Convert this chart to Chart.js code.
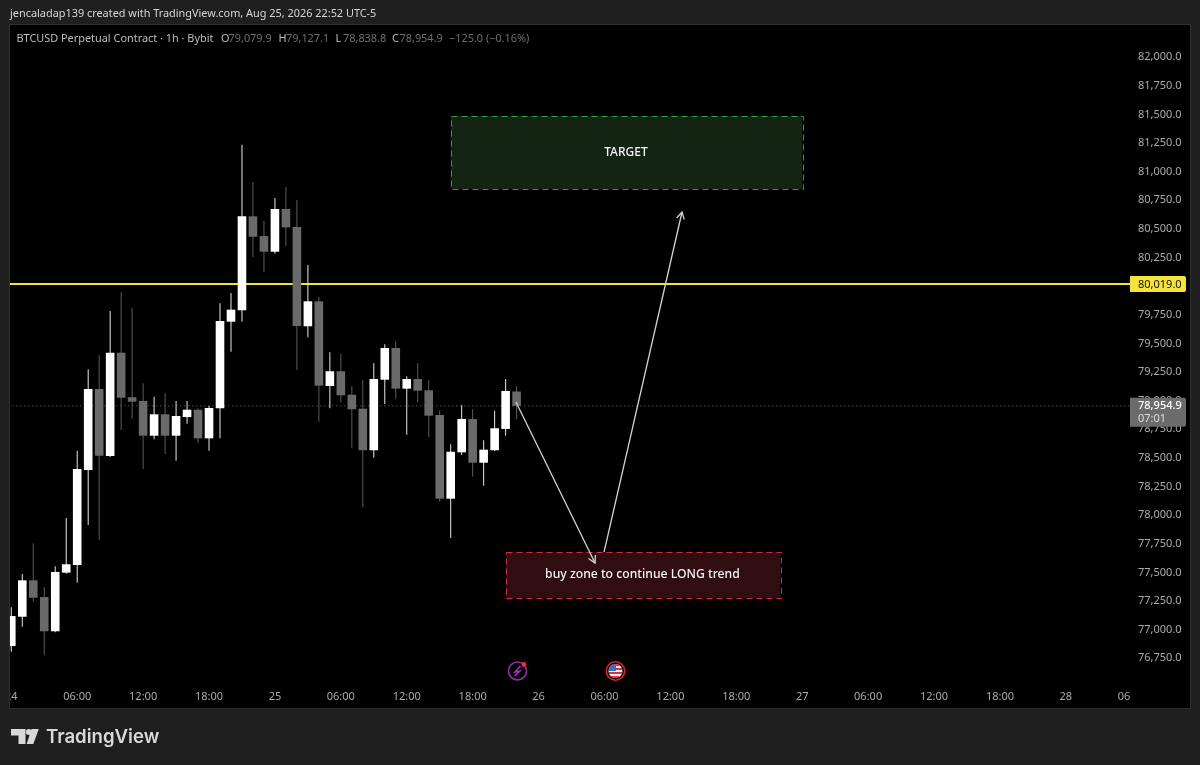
<!DOCTYPE html>
<html><head><meta charset="utf-8">
<script src="https://cdn.jsdelivr.net/npm/chart.js@4/dist/chart.umd.min.js"></script>
<style>html,body{margin:0;padding:0;background:#1e1e1e}canvas{display:block}</style>
</head><body><canvas id="c" width="1200" height="765"></canvas>
<script>
const opens  = [76857,77113,77431,77285,76986,77498,77565,78394,79102,78517,79419,79030,78997,78694,78881,78694,78857,78921,78671,78933,79690,79789,80610,80438,80301,80674,80517,79650,79868,79128,79257,79052,78930,78567,79183,79460,79105,79189,79091,78875,78144,78549,78840,78458,78567,78753,79079.9];
const highs  = [77195,77486,77754,77373,77553,77975,78563,79274,79396,79783,79947,79809,79152,79035,79064,78997,78997,78933,78953,79850,79940,81236,80910,80569,80770,80864,80753,80185,79908,79423,79410,79126,79181,79326,79492,79519,79213,79329,79181,78913,78619,78960,78925,78654,78913,79189,79127.1];
const lows   = [76808,77026,77244,76779,76977,77489,77410,77914,77783,78508,78744,78843,78403,78663,78534,78476,78799,78630,78563,78671,79428,79690,80252,80121,80284,80351,79268,79554,78816,78933,78988,78589,78071,78502,78971,79015,78703,78988,78683,78118,77801,78526,78336,78257,78560,78694,78838.8];
const closes = [77119,77431,77279,76986,77504,77571,78403,79102,78519,79419,79026,78991,78694,78881,78694,78866,78921,78671,78936,79696,79795,80610,80432,80301,80674,80514,79652,79868,79131,79257,79047,78925,78567,79189,79460,79105,79189,79087,78869,78144,78554,78840,78458,78572,78759,79085,78954.9];

const priceTicks = [76750,77000,77250,77500,77750,78000,78250,78500,78750,79000,79250,79500,79750,80000,80250,80500,80750,81000,81250,81500,81750,82000];
const timeTickIndex = [0,6,12,18,24,30,36,42,48,54,60,66,72,78,84,90,96,102];
const timeTickLabels = ['24','06:00','12:00','18:00','25','06:00','12:00','18:00','26','06:00','12:00','18:00','27','06:00','12:00','18:00','28','06:00'];

const levelPrice = 80019.0;
const lastPrice = 78954.9;
const levelX = [-1,110];
const arrowDownX = [45.94,53.14], arrowDownY = [78988,77582];
const arrowUpX = [53.96,61.06], arrowUpY = [77678,80648];
const targetZoneX = [40,72], targetZoneY = [81486,80849];
const buyZoneX = [45,70], buyZoneY = [77678,77277];

const FONT = '"Noto Sans"';
const UP='#ffffff', DOWN='#6a6a6a', UPW='#e8e8e8', DOWNW='#5c5c5c';
const FRAME='#1f1f1f', EDGE='#2e2e2e';
const idx = opens.map((_,i)=>i);
const isUp = i => closes[i]>=opens[i];

function txt(ctx,s,x,y,font,color,align){ctx.font=font;ctx.fillStyle=color;ctx.textAlign=align||'left';ctx.textBaseline='middle';ctx.fillText(s,x,y);}
function tag(ctx,x,y,w,h,color){ctx.fillStyle=color;ctx.beginPath();ctx.roundRect(x,y,w,h,[0,2,2,0]);ctx.fill();}
function head(ctx,x0,y0,x1,y1){const a=Math.atan2(y1-y0,x1-x0),L=8,s=0.5;ctx.beginPath();ctx.moveTo(x1-L*Math.cos(a-s),y1-L*Math.sin(a-s));ctx.lineTo(x1,y1);ctx.lineTo(x1-L*Math.cos(a+s),y1-L*Math.sin(a+s));ctx.stroke();}

const frame={id:'frame',
 beforeDraw(ch){const c=ch.ctx;c.save();c.fillStyle=FRAME;c.fillRect(0,0,1200,765);c.fillStyle=EDGE;c.fillRect(9,24,1182,685);c.fillStyle='#000';c.fillRect(10,25,1180,683);c.restore();},
 beforeDatasetsDraw(ch){const c=ch.ctx,X=ch.scales.x,Y=ch.scales.y;c.save();
  const zone=(xs,ys,fill,stroke,label,size)=>{const x0=X.getPixelForValue(xs[0]),x1=X.getPixelForValue(xs[1]),y0=Y.getPixelForValue(ys[0]),y1=Y.getPixelForValue(ys[1]);
   c.fillStyle=fill;c.fillRect(x0,y0,x1-x0,y1-y0);c.strokeStyle=stroke;c.lineWidth=1;c.setLineDash([6,4]);c.strokeRect(Math.round(x0)+.5,Math.round(y0)+.5,Math.round(x1-x0),Math.round(y1-y0));c.setLineDash([]);
   txt(c,label,(x0+x1)/2-.5,(y0+y1)/2,'500 '+size+'px '+FONT,'#f4f4f4','center');};
  zone(targetZoneX,targetZoneY,'#142412','#2f9e44','TARGET',12);
  zone(buyZoneX,buyZoneY,'#300d11','#d6293e','buy zone to continue LONG trend',12.2);
  c.restore();},
 afterDatasetsDraw(ch){const c=ch.ctx,X=ch.scales.x,Y=ch.scales.y;c.save();
  c.strokeStyle='#d4d4d4';c.lineWidth=1.3;
  head(c,X.getPixelForValue(arrowDownX[0]),Y.getPixelForValue(arrowDownY[0]),X.getPixelForValue(arrowDownX[1]),Y.getPixelForValue(arrowDownY[1]));
  head(c,X.getPixelForValue(arrowUpX[0]),Y.getPixelForValue(arrowUpY[0]),X.getPixelForValue(arrowUpX[1]),Y.getPixelForValue(arrowUpY[1]));
  c.fillStyle=FRAME;c.fillRect(0,682,9,27);c.fillStyle=EDGE;c.fillRect(9,682,1,27);c.fillStyle='#000';c.fillRect(1130,682,60,26);
  const yl=Y.getPixelForValue(levelPrice),yp=Y.getPixelForValue(lastPrice);
  tag(c,1130,yl-8,56,16,'#f5e33c');txt(c,'80,019.0',1138,yl+.5,'11px '+FONT,'#111','left');
  tag(c,1130,yp-8,56,29,'#6b6b6b');txt(c,'78,954.9',1138,yp+.5,'500 11px '+FONT,'#fff','left');txt(c,'07:01',1138,yp+13,'11px '+FONT,'#ddd','left');
  txt(c,'jencaladap139 created with TradingView.com, Aug 25, 2026 22:52 UTC-5',10,14,'10.9px '+FONT,'#d6d6d6');
  const LF='10.9px '+FONT,L1='#bdbdbd',L2='#6f6f6f',ly=39;
  txt(c,'BTCUSD Perpetual Contract · 1h · Bybit',16.5,ly,LF,L1);
  [['O','79,079.9',221],['H','79,127.1',278.5],['L','78,838.8',335.5],['C','78,954.9',392]].forEach(([a,b,x])=>{txt(c,a,x,ly,LF,L1);txt(c,b,x+7.5,ly,LF,L2);});
  txt(c,'−125.0 (−0.16%)',449,ly,LF,L2);
  c.strokeStyle='#8e2fb0';c.lineWidth=1.6;c.beginPath();c.arc(517.5,671,9,0,7);c.stroke();
  c.strokeStyle='#9c36c0';c.lineWidth=1.5;c.beginPath();c.moveTo(520.5,666);c.lineTo(515,672);c.lineTo(520,671);c.lineTo(514.5,676);c.stroke();
  c.fillStyle='#f0283c';c.beginPath();c.arc(524,664.5,2.4,0,7);c.fill();
  c.strokeStyle='#e0252f';c.lineWidth=1.5;c.beginPath();c.arc(615.5,671,9.2,0,7);c.stroke();
  c.save();c.beginPath();c.arc(615.5,671,7,0,7);c.clip();c.fillStyle='#f2f2f2';c.fillRect(607,663,17,16);c.fillStyle='#d8333f';[664,668,672,676].forEach(y=>c.fillRect(607,y,17,2));c.fillStyle='#3b6fc4';c.fillRect(607,663,9,8);c.restore();
  c.fillStyle='#d9d9d9';c.beginPath();c.moveTo(11,729);c.lineTo(25.5,729);c.lineTo(25.5,744);c.lineTo(18.5,744);c.lineTo(18.5,735.5);c.lineTo(11,735.5);c.closePath();c.fill();
  c.beginPath();c.arc(28.8,732,2.9,0,7);c.fill();
  c.beginPath();c.moveTo(31.5,729);c.lineTo(38.8,729);c.lineTo(33.3,744);c.lineTo(26.7,744);c.closePath();c.fill();
  txt(c,'TradingView',46,737.5,'600 18.6px Inter','#d9d9d9');
  c.restore();}
};

new Chart(document.getElementById('c'),{
 type:'bar',plugins:[frame],
 data:{datasets:[
  {type:'line',order:5,data:levelX.map(x=>({x,y:levelPrice})),borderColor:'#f2e42e',borderWidth:2,pointRadius:0},
  {type:'line',order:5,data:levelX.map(x=>({x,y:lastPrice})),borderColor:'#6e6e6e',borderWidth:1,borderDash:[1,3],pointRadius:0},
  {type:'bar',order:3,grouped:false,barThickness:1,inflateAmount:0,data:idx.map(i=>({x:i,y:[lows[i],highs[i]]})),backgroundColor:idx.map(i=>isUp(i)?UPW:DOWNW)},
  {type:'bar',order:2,grouped:false,barThickness:8.6,inflateAmount:0,data:idx.map(i=>({x:i,y:[opens[i],closes[i]]})),backgroundColor:idx.map(i=>isUp(i)?UP:DOWN)},
  {type:'line',order:1,data:arrowDownX.map((x,i)=>({x,y:arrowDownY[i]})),borderColor:'#d4d4d4',borderWidth:1.3,pointRadius:0},
  {type:'line',order:1,data:arrowUpX.map((x,i)=>({x,y:arrowUpY[i]})),borderColor:'#d4d4d4',borderWidth:1.3,pointRadius:0}
 ]},
 options:{responsive:false,animation:false,events:[],
  layout:{padding:{left:10,right:10,top:25,bottom:57}},
  plugins:{legend:{display:false},tooltip:{enabled:false},title:{display:false}},
  scales:{
   x:{type:'linear',position:'bottom',min:-0.118,max:101.84,offset:false,
      grid:{display:false,drawTicks:false},border:{display:false},
      afterBuildTicks(a){a.ticks=timeTickIndex.map(v=>({value:v}));},
      afterFit(a){a.height=27;a.paddingLeft=0;a.paddingRight=0;},
      ticks:{autoSkip:false,maxRotation:0,minRotation:0,padding:9,color:'#ababab',font:{family:FONT,size:11},callback:(v,i)=>timeTickLabels[i]}},
   y:{type:'linear',position:'right',min:76551.65,max:82281.15,
      grid:{display:false,drawTicks:false},border:{display:false},
      afterBuildTicks(a){a.ticks=priceTicks.map(v=>({value:v}));},
      afterFit(a){a.width=60;},
      ticks:{autoSkip:false,padding:8,color:'#ababab',font:{family:FONT,size:11},callback:v=>v.toLocaleString('en-US',{minimumFractionDigits:1,maximumFractionDigits:1})}}
  }}
});
</script></body></html>
